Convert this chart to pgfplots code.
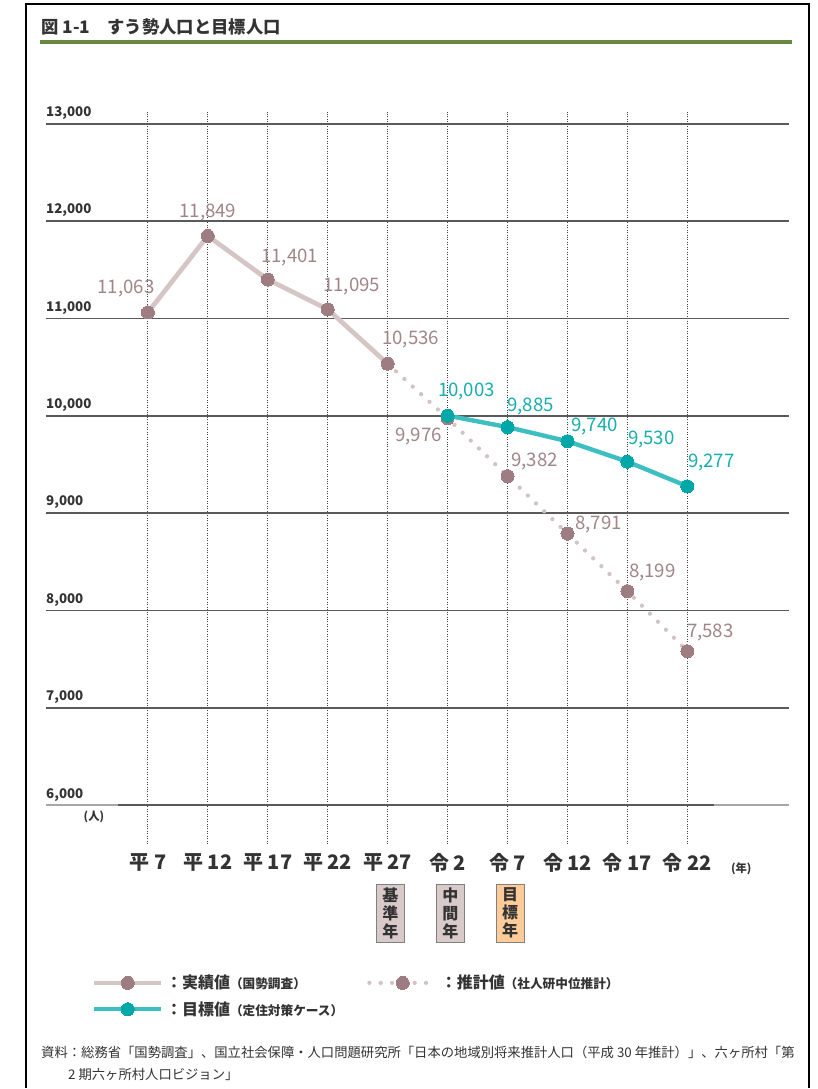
\documentclass[border=0pt]{standalone}
\usepackage{fontspec}
\usepackage{pgfplots}
\pgfplotsset{compat=1.18}
\setmainfont{Noto Sans CJK JP}
\definecolor{actline}{HTML}{D5C5C5}
\definecolor{mauvem}{HTML}{9D7D82}
\definecolor{labm}{HTML}{A0868B}
\definecolor{dotcol}{HTML}{D3C3C4}
\definecolor{tealline}{HTML}{3DBFC2}
\definecolor{tealm}{HTML}{00A7A8}
\definecolor{teallab}{HTML}{19AEAE}
\definecolor{gridc}{HTML}{5A5A5A}
\definecolor{vgridc}{HTML}{404040}
\definecolor{titlec}{HTML}{333333}
\definecolor{rulec}{HTML}{6B8746}
\definecolor{boxpink}{HTML}{D9CACA}
\definecolor{boxorange}{HTML}{FFCC99}
\begin{document}
\begin{tikzpicture}[x=0.75pt,y=-0.75pt]
\path[fill=white] (0,0) rectangle (818,1089);
\draw[line width=1.5pt] (26,1089) -- (26,4) -- (810,4) -- (810,1089);
\node[anchor=west, font=\bfseries\fontsize{13}{15}\selectfont, text=titlec, inner sep=0pt] at (41,27) {図 1-1\quad すう勢人口と目標人口};
\draw[rulec, line width=3pt] (40,42) -- (793,42);
\begin{axis}[
  at={(34.5pt,-633.75pt)}, anchor=south west,
  scale only axis, width=558pt, height=549.75pt,
  xmin=-1.7, xmax=10.7, ymin=5600, ymax=13123,
  clip=false,
  scaled y ticks=false,
  axis line style={draw=none}, major tick length=0pt,
  xtick={0,...,9},
  xticklabels={平 7,平 12,平 17,平 22,平 27,令 2,令 7,令 12,令 17,令 22},
  xticklabel style={anchor=north, inner sep=0pt, yshift=-7pt, font=\bfseries\fontsize{15}{17}\selectfont, text=titlec},
  ytick={6000,7000,...,13000},
  yticklabels={{6,000},{7,000},{8,000},{9,000},{10,000},{11,000},{12,000},{13,000}},
  yticklabel style={anchor=south west, inner sep=0pt, yshift=3pt, font=\bfseries\fontsize{10}{12}\selectfont, text=titlec},
  xmajorgrids, ymajorgrids,
  x grid style={vgridc, line width=0.9pt, dash pattern=on 0.75pt off 1.1pt},
  y grid style={gridc, line width=1.3pt},
  legend columns=2,
  legend cell align=left,
  legend style={at={(0.0618,-0.1746)}, anchor=north west, draw=none, fill=none, inner sep=0pt,
    font=\bfseries\fontsize{12}{14}\selectfont, text=titlec, row sep=4pt,
    /tikz/every even column/.append style={column sep=16pt}},
  legend image code/.code={\draw[mark repeat=2,mark phase=2,#1] plot coordinates {(0pt,0pt)(25pt,0pt)(50pt,0pt)};},
]
\draw[color=gray!70, line width=1.3pt] (axis cs:-1.7,6000) -- (axis cs:10.7,6000);
\draw[color=gridc, line width=1.4pt] (axis cs:-0.5,6000) -- (axis cs:9.45,6000);

\addplot[actline, line width=3.5pt, mark=*, mark size=4.9pt, mark options={solid, fill=mauvem, draw=mauvem, line width=0pt}]
  coordinates {(0,11063)(1,11849)(2,11401)(3,11095)(4,10536)};
\addlegendentry{：実績値{\fontsize{9.5}{11}\selectfont（国勢調査）}}
\addplot[dotcol, line width=3.2pt, dash pattern=on 0pt off 8.5pt, line cap=round, mark=*, mark size=4.9pt, mark options={solid, fill=mauvem, draw=mauvem, line width=0pt}]
  coordinates {(4,10536)(5,9976)(6,9382)(7,8791)(8,8199)(9,7583)};
\addlegendentry{：推計値{\fontsize{9.5}{11}\selectfont（社人研中位推計）}}
\addplot[tealline, line width=3.3pt, mark=*, mark size=4.9pt, mark options={solid, fill=tealm, draw=tealm, line width=0pt}]
  coordinates {(5,10003)(6,9885)(7,9740)(8,9530)(9,9277)};
\addlegendentry{：目標値{\fontsize{9.5}{11}\selectfont（定住対策ケース）}}

\tikzset{lab/.style={font=\fontsize{14}{16}\selectfont, text=labm, inner sep=0pt},
         tlab/.style={font=\fontsize{14}{16}\selectfont, text=teallab, inner sep=0pt},
         box/.style={draw=gray, line width=0.8pt, align=center, minimum width=21pt, minimum height=43.5pt, inner sep=1pt, font=\bfseries\fontsize{12}{13.5}\selectfont, text=titlec}}
\node[lab, xshift=-16.5pt, yshift=18pt] at (axis cs:0,11063) {11,063};
\node[lab, xshift=0pt, yshift=17.6pt] at (axis cs:1,11849) {11,849};
\node[lab, xshift=16.5pt, yshift=16.5pt] at (axis cs:2,11401) {11,401};
\node[lab, xshift=18pt, yshift=17.25pt] at (axis cs:3,11095) {11,095};
\node[lab, xshift=17.25pt, yshift=18pt] at (axis cs:4,10536) {10,536};
\node[lab, xshift=-21.75pt, yshift=-13.5pt] at (axis cs:5,9976) {9,976};
\node[lab, xshift=20.25pt, yshift=11.25pt] at (axis cs:6,9382) {9,382};
\node[lab, xshift=23.25pt, yshift=6.75pt] at (axis cs:7,8791) {8,791};
\node[lab, xshift=18.75pt, yshift=14.25pt] at (axis cs:8,8199) {8,199};
\node[lab, xshift=17.25pt, yshift=14.25pt] at (axis cs:9,7583) {7,583};
\node[tlab, xshift=14.25pt, yshift=18pt] at (axis cs:5,10003) {10,003};
\node[tlab, xshift=17.25pt, yshift=15.75pt] at (axis cs:6,9885) {9,885};
\node[tlab, xshift=20.25pt, yshift=11.25pt] at (axis cs:7,9740) {9,740};
\node[tlab, xshift=18pt, yshift=16.5pt] at (axis cs:8,9530) {9,530};
\node[tlab, xshift=18pt, yshift=18pt] at (axis cs:9,9277) {9,277};

\node[box, fill=boxpink, xshift=2pt, yshift=-51.75pt] at (axis cs:4,5600) {基\\準\\年};
\node[box, fill=boxpink, xshift=2pt, yshift=-51.75pt] at (axis cs:5,5600) {中\\間\\年};
\node[box, fill=boxorange, xshift=2pt, yshift=-51.75pt] at (axis cs:6,5600) {目\\標\\年};
\end{axis}
\node[font=\bfseries\fontsize{8.5}{10}\selectfont, text=titlec, inner sep=0pt] at (94,818) {(人)};
\node[font=\bfseries\fontsize{8.5}{10}\selectfont, text=titlec, inner sep=0pt] at (742,870) {(年)};
\node[anchor=west, font=\fontsize{10}{12}\selectfont, text=titlec, inner sep=0pt] at (41,1053) {資料：総務省「国勢調査」、国立社会保障・人口問題研究所「日本の地域別将来推計人口（平成 30 年推計）」、六ヶ所村「第};
\node[anchor=west, font=\fontsize{10}{12}\selectfont, text=titlec, inner sep=0pt] at (68,1075) {2 期六ヶ所村人口ビジョン」};
\end{tikzpicture}
\end{document}
